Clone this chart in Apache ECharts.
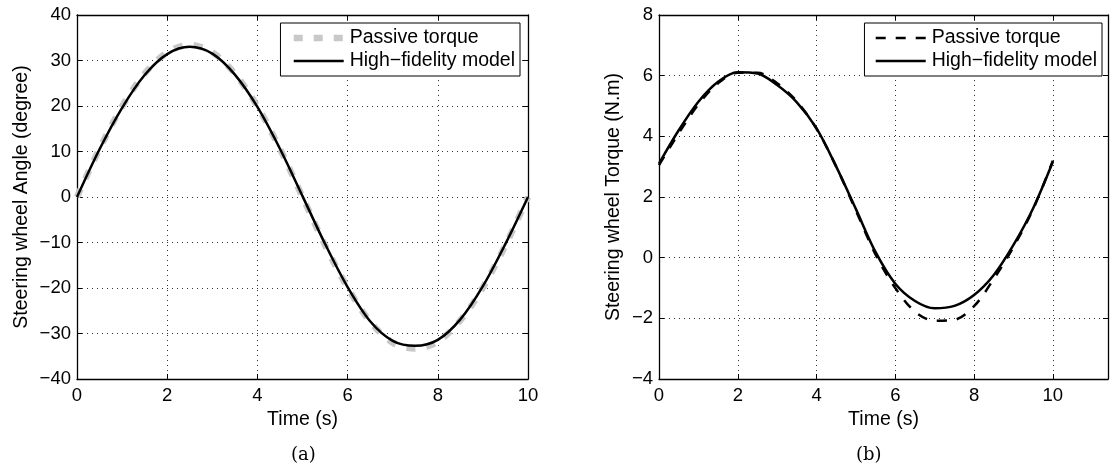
<!DOCTYPE html>
<html>
<head>
<meta charset="utf-8">
<script src="https://cdn.jsdelivr.net/npm/echarts@6/dist/echarts.min.js"></script>
<style>
html,body{margin:0;padding:0;background:#fff;}
#c{width:1111px;height:469px;}
</style>
</head>
<body>
<div id="c"></div>
<script>
// ---- data ----
const timeSteps = [0,0.5,1,1.5,2,2.5,3,3.5,4,4.5,5,5.5,6,6.5,7,7.5,8,8.5,9,9.5,10];
// (a) Steering wheel angle (degree)
const anglePassive = [0,10.6,19.9,27.1,31.8,33.4,31.8,27.1,19.9,10.6,0,-10.6,-19.9,-27.4,-32.0,-33.3,-31.8,-27.1,-19.9,-10.6,0];
const angleHiFi    = [0,10.5,19.6,26.8,31.4,33.0,31.5,26.9,19.8,10.6,0.2,-10.3,-19.8,-27.3,-31.6,-32.7,-31.4,-26.9,-19.6,-10.3,0];
// (b) Steering wheel torque (N.m)
const torquePassive = [3.05,4.1,5.05,5.75,6.10,6.10,5.75,5.15,4.25,3.0,1.55,0.1,-1.0,-1.78,-2.08,-2.05,-1.6,-0.7,0.35,1.6,3.2];
const torqueHiFi    = [3.10,4.2,5.14,5.80,6.11,6.07,5.69,5.12,4.26,3.0,1.6,0.18,-0.86,-1.43,-1.67,-1.59,-1.23,-0.57,0.42,1.63,3.16];
const xTicksA = {min:0, max:10, interval:2};
const yTicksA = {min:-40, max:40, interval:10};
const xTicksB = {min:0, max:11.4, interval:2};
const yTicksB = {min:-4, max:8, interval:2};
const seriesNames = ['Passive torque', 'High\u2212fidelity model'];
const xLabel = 'Time (s)';
const yLabelA = 'Steering wheel Angle (degree)';
const yLabelB = 'Steering wheel Torque (N.m)';
const captions = ['(a)', '(b)'];

const pairs = (ys) => timeSteps.map((t,i)=>[t, ys[i]]);
const FONT = '"Liberation Sans", Arial, Helvetica, sans-serif';
const fmtX = (v) => (Math.abs(v % 2) < 1e-9) ? String(v) : '';
const fmtY = (v) => String(v).replace('-', '\u2212');

const axisLine = {show:true, onZero:false, lineStyle:{color:'#000', width:1.3}};
const axisTick = {show:true, inside:true, length:5, lineStyle:{color:'#000', width:1}};
const splitLine = {show:true, lineStyle:{color:'#333', width:1, type:[1,4]}};
const labelStyle = {color:'#000', fontSize:18.5, fontFamily:FONT};
const nameStyle = {color:'#000', fontSize:19.5, fontFamily:FONT};

function mainX(grid, t) {
  return {type:'value', gridIndex:grid, min:t.min, max:t.max, interval:t.interval, position:'bottom',
    axisLine, axisTick, splitLine,
    axisLabel:Object.assign({margin:7, formatter:fmtX}, labelStyle),
    name:xLabel, nameLocation:'middle', nameGap:28, nameTextStyle:nameStyle};
}
function topX(grid, t) {
  return {type:'value', gridIndex:grid, min:t.min, max:t.max, interval:t.interval, position:'top',
    axisLine, axisTick, splitLine:{show:false}, axisLabel:{show:false}};
}
function mainY(grid, t, name, gap) {
  return {type:'value', gridIndex:grid, min:t.min, max:t.max, interval:t.interval, position:'left',
    axisLine, axisTick, splitLine,
    axisLabel:Object.assign({margin:6, formatter:fmtY}, labelStyle),
    name:name, nameLocation:'middle', nameGap:gap, nameTextStyle:nameStyle};
}
function rightY(grid, t) {
  return {type:'value', gridIndex:grid, min:t.min, max:t.max, interval:t.interval, position:'right',
    axisLine, axisTick, splitLine:{show:false}, axisLabel:{show:false}};
}

const grayDash = {color:'#c8c8c8', width:6.5, type:[9,11]};
const blackDash = {color:'#000', width:2.5, type:[10,10]};
const blackSolid = {color:'#000', width:2.5, type:'solid'};

function legendAt(right, names, styles) {
  return {
    orient:'vertical', right:right, top:23,
    backgroundColor:'#fff', borderColor:'#000', borderWidth:1, borderRadius:0,
    padding:[5,5,5,10], itemGap:3, itemWidth:50, itemHeight:12,
    itemStyle:{opacity:0},
    textStyle:Object.assign({padding:[0,0,0,1], lineHeight:20}, nameStyle),
    selectedMode:false,
    data:names.map((n,i)=>({name:n, lineStyle:styles[i], itemStyle:{opacity:0}}))
  };
}

const SMOOTH = 0.33;
const option = {
  animation:false,
  backgroundColor:'#fff',
  grid:[
    {left:77, top:15, width:451, height:364, containLabel:false},
    {left:659, top:15, width:451, height:364, containLabel:false}
  ],
  xAxis:[mainX(0, xTicksA), mainX(1, xTicksB), topX(0, xTicksA), topX(1, xTicksB)],
  yAxis:[mainY(0, yTicksA, yLabelA, 45), mainY(1, yTicksB, yLabelB, 35), rightY(0, yTicksA), rightY(1, yTicksB)],
  legend:[
    legendAt(591, seriesNames, [grayDash, blackSolid]),
    legendAt(9, seriesNames, [blackDash, blackSolid])
  ],
  series:[
    {name:seriesNames[0], type:'line', xAxisIndex:0, yAxisIndex:0, data:pairs(anglePassive), smooth:SMOOTH, symbol:'none', lineStyle:grayDash, z:2},
    {name:seriesNames[1], type:'line', xAxisIndex:0, yAxisIndex:0, data:pairs(angleHiFi), smooth:SMOOTH, symbol:'none', lineStyle:blackSolid, z:3},
    {name:seriesNames[0], type:'line', xAxisIndex:1, yAxisIndex:1, data:pairs(torquePassive), smooth:SMOOTH, symbol:'none', lineStyle:blackDash, z:2},
    {name:seriesNames[1], type:'line', xAxisIndex:1, yAxisIndex:1, data:pairs(torqueHiFi), smooth:SMOOTH, symbol:'none', lineStyle:blackSolid, z:3}
  ],
  graphic:[
    {type:'text', left:291, top:446, style:{text:captions[0], fill:'#000', font:'18px "DejaVu Serif", "Liberation Serif", serif'}},
    {type:'text', left:856, top:446, style:{text:captions[1], fill:'#000', font:'18px "DejaVu Serif", "Liberation Serif", serif'}}
  ]
};
const chart = echarts.init(document.getElementById('c'), null, {renderer:'canvas'});
chart.setOption(option);
</script>
</body>
</html>
